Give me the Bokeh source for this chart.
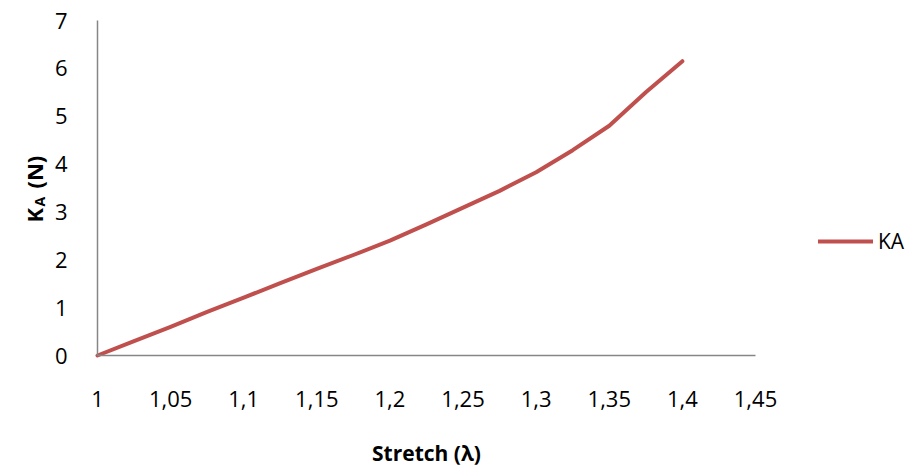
import math
from bokeh.plotting import figure
from bokeh.models import (Range1d, FixedTicker, CustomJSTickFormatter, Legend, LegendItem, Label)
from bokeh.embed import file_html
from bokeh.resources import INLINE

# data
stretch = [1.0, 1.025, 1.05, 1.075, 1.1, 1.125, 1.15, 1.175, 1.2, 1.225, 1.25,
           1.275, 1.3, 1.325, 1.35, 1.375, 1.4]
ka = [0.0, 0.30, 0.60, 0.91, 1.21, 1.51, 1.81, 2.10, 2.40, 2.74, 3.09,
      3.44, 3.83, 4.29, 4.80, 5.50, 6.15]
x_ticks = [1.0, 1.05, 1.1, 1.15, 1.2, 1.25, 1.3, 1.35, 1.4, 1.45]
y_ticks = [0, 1, 2, 3, 4, 5, 6, 7]
series_name = "KA"

FONT = "Open Sans"
W, H = 905, 466
# plot area in pixels: x 97..755, y 20..355 (from top)
PX_L, PX_R, PX_T, PX_B = 97, 755, 20, 355
XMIN, XMAX, YMIN, YMAX = 1.0, 1.45, 0.0, 7.0
sx = (PX_R - PX_L) / (XMAX - XMIN)
sy = (PX_B - PX_T) / (YMAX - YMIN)

p = figure(width=W, height=H, output_backend="svg", toolbar_location=None,
           x_range=Range1d(XMIN - PX_L / sx, XMIN + (W - PX_L) / sx),
           y_range=Range1d(YMIN - (H - PX_B) / sy, YMAX + PX_T / sy),
           min_border=0, min_border_left=0, min_border_right=0,
           min_border_top=0, min_border_bottom=0)
p.outline_line_color = None
p.xgrid.visible = False
p.ygrid.visible = False
p.background_fill_color = "white"
p.border_fill_color = "white"

r = p.line(stretch, ka, line_color="#C0504D", line_width=4, line_cap="round", line_join="round")

fmt = CustomJSTickFormatter(code="""
var s = tick.toFixed(2).replace(/0+$/, '').replace(/\\.$/, '');
return s.replace('.', ',');
""")
p.xaxis.ticker = FixedTicker(ticks=x_ticks)
p.xaxis.formatter = fmt
p.yaxis.ticker = FixedTicker(ticks=y_ticks)
p.xaxis.fixed_location = YMIN
p.yaxis.fixed_location = XMIN
p.xaxis.bounds = (XMIN, XMAX)
p.yaxis.bounds = (YMIN, YMAX)

for ax in (p.xaxis, p.yaxis):
    ax.axis_line_color = "#868686"
    ax.axis_line_width = 1.5
    ax.major_tick_line_color = None
    ax.minor_tick_line_color = None
    ax.major_label_text_font = FONT
    ax.major_label_text_font_size = "22px"
    ax.major_label_text_color = "black"

p.xaxis.major_label_standoff = 29
p.yaxis.major_label_standoff = 24

p.xaxis.axis_label = "Stretch (λ)"
p.xaxis.axis_label_text_font = FONT
p.xaxis.axis_label_text_font_style = "bold"
p.xaxis.axis_label_text_font_size = "21px"
p.xaxis.axis_label_standoff = 29
p.xaxis.axis_label_text_color = "black"

# y-axis label with subscript, drawn as rotated labels (screen units from bottom-left)
for txt, x, y, size in [("K", 33, H - 222, "22px"), ("A", 39, H - 206, "14px"), ("(N)", 33, H - 188, "22px")]:
    p.add_layout(Label(x=x, y=y, x_units="screen", y_units="screen", text=txt,
                       angle=math.pi / 2, text_font=FONT, text_font_style="bold",
                       text_font_size=size, text_baseline="alphabetic", text_align="left",
                       text_color="black"))

legend = Legend(items=[LegendItem(label=series_name, renderers=[r])],
                location=(818, H - 255), padding=0, margin=0, spacing=0,
                glyph_width=55, glyph_height=20, label_standoff=5,
                label_text_font=FONT, label_text_font_size="21px",
                label_text_color="black",
                border_line_color=None, background_fill_alpha=0)
p.add_layout(legend, "center")

open("out.html", "w").write(file_html(p, INLINE))
